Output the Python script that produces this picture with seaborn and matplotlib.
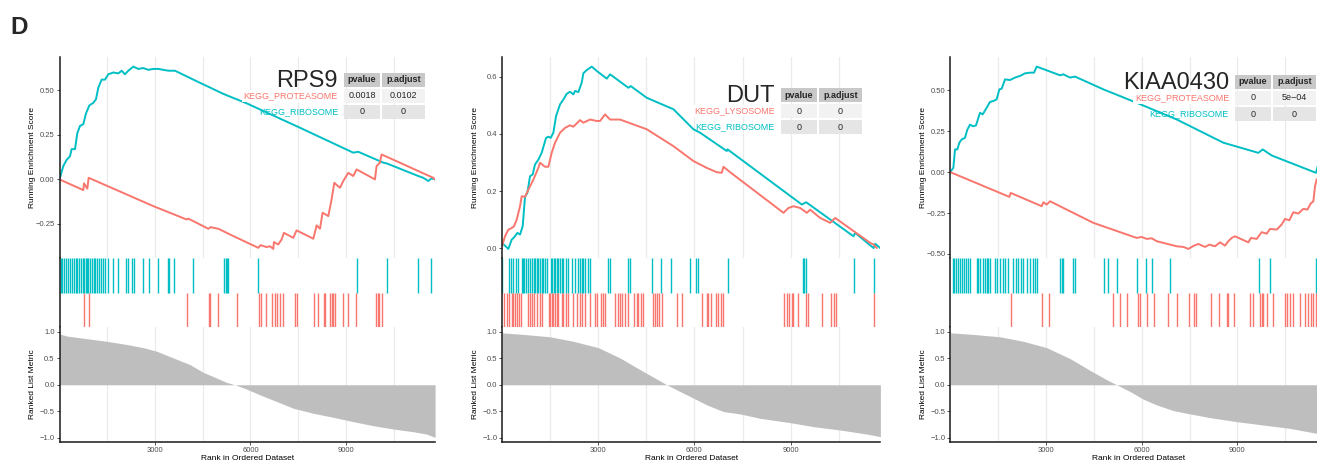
import numpy as np
import pandas as pd
import matplotlib
matplotlib.use("Agg")
import matplotlib.pyplot as plt
from matplotlib.patches import Rectangle
from matplotlib.ticker import FuncFormatter
import seaborn as sns

N_GENES = 11800
RED = "#F8766D"
CYAN = "#00BFC4"

# ---------------- RPS9 ----------------
rps9_ribo_rank = [0, 120, 225, 330, 382, 487, 560, 644, 748, 832, 937, 1063, 1146, 1220, 1324,
                  1429, 1534, 1691, 1848, 1953, 2057, 2162, 2319, 2476, 2633, 2790, 2947, 3104,
                  3261, 3418, 3628, 4204, 5146, 5879, 7554, 9229, 9386, 10172, 10276, 11271,
                  11428, 11585, 11690, 11795]
rps9_ribo_es = [0, 0.075, 0.11, 0.13, 0.17, 0.17, 0.26, 0.30, 0.31, 0.37, 0.415, 0.43, 0.45, 0.515,
                0.56, 0.56, 0.59, 0.60, 0.595, 0.61, 0.59, 0.61, 0.633, 0.62, 0.625, 0.615, 0.62,
                0.62, 0.615, 0.61, 0.61, 0.56, 0.48, 0.427, 0.29, 0.15, 0.155, 0.094, 0.09, 0.019,
                0.009, -0.009, 0.006, 0]
rps9_prot_rank = [0, 748, 770, 874, 916, 2947, 3994, 4047, 4675, 4748, 4989, 5460, 6245, 6319,
                  6507, 6612, 6716, 6737, 6873, 6978, 7051, 7344, 7449, 7974, 8078, 8183, 8266,
                  8444, 8549, 8633, 8811, 8915, 9072, 9229, 9334, 9910, 9962, 10067, 10119, 11742,
                  11795]
rps9_prot_es = [0, -0.06, -0.022, -0.052, 0.009, -0.15, -0.225, -0.22, -0.277, -0.268, -0.277,
                -0.318, -0.384, -0.369, -0.38, -0.375, -0.39, -0.352, -0.365, -0.337, -0.30,
                -0.328, -0.286, -0.333, -0.258, -0.277, -0.187, -0.206, -0.112, -0.019, -0.047,
                -0.009, 0.037, 0.019, 0.056, 0, 0.075, 0.094, 0.14, 0.009, 0]
rps9_ribo_hits = [47, 89, 152, 205, 257, 330, 403, 466, 508, 560, 613, 676, 749, 780, 822, 864,
                  906, 948, 1011, 1074, 1115, 1178, 1231, 1293, 1356, 1430, 1534, 1691, 1827,
                  2089, 2141, 2288, 2330, 2634, 2822, 3084, 3398, 3450, 3597, 4183, 5178, 5220,
                  5262, 5303, 6245, 9334, 10276, 11271, 11669]
rps9_prot_hits = [770, 916, 3995, 4686, 4728, 4968, 5565, 6266, 6329, 6486, 6685, 6768, 6842,
                  6925, 7030, 7386, 7470, 8004, 8109, 8297, 8349, 8496, 8548, 8601, 8653, 8894,
                  9051, 9313, 9941, 9993, 10046, 10129]
rps9_metric_rank = [1, 225, 853, 1481, 2110, 2633, 3052, 3576, 4099, 4518, 4937, 5250, 5512,
                    5879, 6298, 6821, 7345, 7973, 8601, 9229, 9858, 10486, 11114, 11533, 11742,
                    11800]
rps9_metric = [0.96, 0.92, 0.87, 0.82, 0.76, 0.70, 0.633, 0.506, 0.38, 0.234, 0.127, 0.044, 0,
               -0.082, -0.19, -0.316, -0.443, -0.538, -0.614, -0.696, -0.772, -0.835, -0.886,
               -0.93, -0.98, -0.99]
rps9_sets = ["KEGG_PROTEASOME", "KEGG_RIBOSOME"]
rps9_pvalue = ["0.0018", "0"]
rps9_padjust = ["0.0102", "0"]

# ---------------- DUT ----------------
dut_ribo_rank = [0, 198, 302, 406, 479, 562, 645, 718, 791, 874, 957, 1030, 1134, 1238, 1373,
                 1446, 1519, 1602, 1685, 1810, 1914, 2018, 2122, 2226, 2278, 2382, 2486, 2538,
                 2642, 2798, 2954, 3266, 3370, 3942, 4015, 4514, 5346, 5970, 6178, 7010, 7031,
                 9350, 9485, 10962, 11014, 11586, 11638, 11794]
dut_ribo_es = [0.019, -0.002, 0.03, 0.042, 0.054, 0.048, 0.077, 0.18, 0.194, 0.252, 0.258, 0.293,
               0.31, 0.334, 0.386, 0.39, 0.386, 0.404, 0.462, 0.503, 0.52, 0.54, 0.547, 0.538,
               0.55, 0.546, 0.579, 0.612, 0.623, 0.635, 0.62, 0.593, 0.608, 0.561, 0.567, 0.526,
               0.486, 0.416, 0.404, 0.34, 0.346, 0.153, 0.161, 0.042, 0.054, 0.001, 0.016, 0.001]
dut_lyso_rank = [0, 94, 198, 302, 375, 458, 562, 614, 718, 822, 978, 1134, 1186, 1342, 1446,
                 1550, 1654, 1810, 1966, 2122, 2226, 2434, 2538, 2746, 2954, 3058, 3214, 3370,
                 3682, 4098, 4514, 5346, 5970, 6386, 6698, 6854, 6906, 7114, 8778, 8934, 9090,
                 9298, 9506, 9610, 9922, 10234, 10390, 11482, 11586, 11690]
dut_lyso_es = [0.007, 0.042, 0.065, 0.071, 0.077, 0.10, 0.147, 0.182, 0.18, 0.205, 0.24, 0.281,
               0.299, 0.285, 0.285, 0.334, 0.369, 0.404, 0.421, 0.43, 0.425, 0.448, 0.439, 0.45,
               0.445, 0.445, 0.468, 0.45, 0.45, 0.433, 0.416, 0.357, 0.305, 0.281, 0.266, 0.264,
               0.285, 0.266, 0.124, 0.141, 0.147, 0.141, 0.124, 0.135, 0.106, 0.089, 0.106,
               0.019, 0.013, 0.001]
dut_ribo_hits = [11, 219, 281, 354, 427, 489, 614, 656, 697, 739, 801, 864, 947, 999, 1030, 1082,
                 1134, 1196, 1238, 1290, 1342, 1404, 1529, 1571, 1612, 1654, 1706, 1758, 1820,
                 1862, 1914, 1987, 2070, 2195, 2278, 2361, 2434, 2486, 2538, 2590, 2694, 2746,
                 3318, 3370, 3942, 3994, 4670, 4951, 5273, 5866, 6053, 6126, 7041, 9371, 9423,
                 9485, 10962, 11607]
dut_lyso_hits = [73, 146, 219, 302, 354, 406, 458, 531, 593, 822, 874, 947, 1009, 1082, 1186,
                 1238, 1467, 1508, 1550, 1602, 1654, 1706, 1758, 1862, 1914, 1987, 2070, 2226,
                 2330, 2434, 2486, 2590, 2746, 2902, 2954, 3089, 3162, 3214, 3526, 3609, 3682,
                 3755, 3838, 3921, 4129, 4202, 4254, 4337, 4410, 4722, 4774, 4826, 4899, 4982,
                 5450, 5606, 6230, 6386, 6438, 6511, 6677, 6750, 6823, 6906, 8799, 8882, 8965,
                 9038, 9090, 9246, 9485, 9527, 9974, 10255, 10338, 10421, 11586]
dut_metric_rank = [1, 666, 1498, 2226, 3006, 3682, 4306, 4826, 5138, 5554, 5970, 6386, 6906,
                   7426, 8050, 8986, 9714, 10546, 11378, 11800]
dut_metric = [0.98, 0.95, 0.905, 0.82, 0.70, 0.506, 0.285, 0.108, 0, -0.127, -0.253, -0.38,
              -0.506, -0.55, -0.633, -0.715, -0.79, -0.854, -0.93, -0.98]
dut_sets = ["KEGG_LYSOSOME", "KEGG_RIBOSOME"]
dut_pvalue = ["0", "0"]
dut_padjust = ["0", "0"]

# ---------------- KIAA0430 ----------------
kiaa_ribo_rank = [0, 96, 148, 221, 284, 357, 461, 534, 618, 723, 806, 848, 932, 1015, 1141, 1245,
                  1350, 1454, 1538, 1611, 1715, 1872, 2029, 2186, 2342, 2499, 2624, 2708, 3440,
                  3544, 3753, 3910, 4798, 5843, 7097, 8560, 9657, 9793, 10075, 11465, 11517,
                  11800]
kiaa_ribo_es = [0, 0.027, 0.139, 0.139, 0.18, 0.20, 0.21, 0.26, 0.29, 0.28, 0.286, 0.312, 0.363,
                0.353, 0.394, 0.429, 0.435, 0.445, 0.506, 0.51, 0.567, 0.563, 0.578, 0.588,
                0.604, 0.608, 0.608, 0.645, 0.592, 0.598, 0.578, 0.584, 0.506, 0.424, 0.322,
                0.18, 0.118, 0.139, 0.102, -0.004, 0.037, 0]
kiaa_prot_rank = [0, 1851, 1893, 2865, 2917, 3022, 3126, 4485, 5843, 6000, 6157, 6313, 6470,
                  7097, 7306, 7463, 7640, 7776, 7985, 8121, 8299, 8456, 8612, 8717, 8821, 8926,
                  9344, 9427, 9605, 9762, 9919, 10023, 10232, 10389, 10493, 10629, 10754, 10911,
                  11068, 11193, 11298, 11382, 11434, 11486, 11800]
kiaa_prot_es = [0, -0.151, -0.127, -0.208, -0.184, -0.198, -0.178, -0.31, -0.402, -0.396,
                -0.408, -0.404, -0.422, -0.453, -0.457, -0.469, -0.449, -0.439, -0.457, -0.443,
                -0.453, -0.429, -0.449, -0.422, -0.402, -0.392, -0.429, -0.402, -0.408, -0.367,
                -0.376, -0.347, -0.351, -0.32, -0.286, -0.294, -0.245, -0.253, -0.224, -0.229,
                -0.192, -0.178, -0.086, -0.045, 0]
kiaa_ribo_hits = [75, 116, 179, 242, 305, 357, 430, 493, 566, 618, 827, 879, 932, 1036, 1088,
                  1141, 1193, 1245, 1402, 1475, 1559, 1642, 1715, 1820, 1977, 2060, 2133, 2217,
                  2290, 2415, 2499, 2583, 2656, 2708, 3440, 3492, 3544, 3858, 3910, 4829, 4955,
                  5237, 5864, 6136, 6313, 6888, 9668, 10023, 11465]
kiaa_prot_hits = [1893, 2886, 3105, 5112, 5321, 5550, 5895, 5948, 6157, 6386, 6836, 7118, 7494,
                  7640, 7703, 8163, 8435, 8665, 8717, 8894, 9396, 9500, 9710, 9762, 9814, 9919,
                  10128, 10493, 10546, 10650, 10755, 10964, 11120, 11225, 11298, 11382, 11465]
kiaa_metric_rank = [1, 723, 1559, 2290, 3022, 3753, 4380, 4903, 5216, 5634, 6052, 6470, 6993,
                    7515, 8142, 8978, 9814, 10650, 11497, 11800]
kiaa_metric = [0.98, 0.95, 0.905, 0.82, 0.70, 0.494, 0.272, 0.095, 0, -0.127, -0.272, -0.38,
               -0.487, -0.55, -0.62, -0.696, -0.76, -0.823, -0.918, -0.95]
kiaa_sets = ["KEGG_PROTEASOME", "KEGG_RIBOSOME"]
kiaa_pvalue = ["0", "0"]
kiaa_padjust = ["5e\u221204", "0"]

panels = [
    dict(gene="RPS9", left=59.5, width=375.6, table=(344, 73), fmt="%.2f",
         es_ticks=[-0.25, 0, 0.25, 0.5], sets=rps9_sets, pval=rps9_pvalue, padj=rps9_padjust,
         red=(rps9_prot_rank, rps9_prot_es, rps9_prot_hits),
         cyan=(rps9_ribo_rank, rps9_ribo_es, rps9_ribo_hits),
         metric=(rps9_metric_rank, rps9_metric)),
    dict(gene="DUT", left=502, width=378.4, table=(781, 88), fmt="%.1f",
         es_ticks=[0, 0.2, 0.4, 0.6], sets=dut_sets, pval=dut_pvalue, padj=dut_padjust,
         red=(dut_lyso_rank, dut_lyso_es, dut_lyso_hits),
         cyan=(dut_ribo_rank, dut_ribo_es, dut_ribo_hits),
         metric=(dut_metric_rank, dut_metric)),
    dict(gene="KIAA0430", left=950.3, width=376.4, table=(1235, 75), fmt="%.2f",
         es_ticks=[-0.5, -0.25, 0, 0.25, 0.5], sets=kiaa_sets, pval=kiaa_pvalue,
         padj=kiaa_padjust,
         red=(kiaa_prot_rank, kiaa_prot_es, kiaa_prot_hits),
         cyan=(kiaa_ribo_rank, kiaa_ribo_es, kiaa_ribo_hits),
         metric=(kiaa_metric_rank, kiaa_metric)),
]

sns.set_theme(style="white")
plt.rcParams["font.family"] = ["Liberation Sans", "DejaVu Sans"]
plt.rcParams["axes.unicode_minus"] = True

W, H = 1317, 461
fig = plt.figure(figsize=(W / 100, H / 100), dpi=100)


def box(left, top, width, bottom):
    return [left / W, 1 - bottom / H, width / W, (bottom - top) / H]


def fx(x):
    return x / W


def fy(y):
    return 1 - y / H


def minus_fmt(fmt):
    return FuncFormatter(lambda v, _: (fmt % v).replace("-", "\u2212"))


def style_y(ax):
    ax.tick_params(axis="y", left=True, length=2, width=0.6, color="#333333",
                   labelsize=5.5, labelcolor="#4D4D4D", pad=1.5)


def x_grid(ax):
    ax.set_xlim(0, N_GENES)
    ax.set_xticks([3000, 6000, 9000])
    ax.set_xticks([1500, 4500, 7500, 10500], minor=True)
    ax.grid(True, axis="x", which="both", color="#EBEBEB", lw=0.9)
    ax.set_axisbelow(True)


def keep_spines(ax, sides):
    for s in ["left", "right", "top", "bottom"]:
        ax.spines[s].set_visible(s in sides)
        ax.spines[s].set_color("#1A1A1A")
        ax.spines[s].set_linewidth(1.1)


def draw_table(p):
    tl, tt = p["table"]
    col_w = [36, 43]
    row_h, gap = 14, 2
    header = ["pvalue", "p.adjust"]
    fills = ["#F2F2F2", "#E5E5E5"]
    cells = [p["pval"], p["padj"]]
    x = tl
    for j in range(2):
        y = tt
        fig.patches.append(Rectangle((fx(x), fy(y + row_h)), col_w[j] / W, row_h / H,
                                     transform=fig.transFigure, fc="#C8C8C8", ec="none"))
        fig.text(fx(x + col_w[j] / 2), fy(y + row_h / 2), header[j], fontsize=6.5,
                 weight="bold", ha="center", va="center")
        for i in range(2):
            y = tt + (row_h + gap) * (i + 1)
            fig.patches.append(Rectangle((fx(x), fy(y + row_h)), col_w[j] / W, row_h / H,
                                         transform=fig.transFigure, fc=fills[i], ec="none"))
            fig.text(fx(x + col_w[j] / 2), fy(y + row_h / 2), cells[j][i], fontsize=6.5,
                     ha="center", va="center")
        x += col_w[j] + gap
    colors = [RED, CYAN]
    for i in range(2):
        y = tt + (row_h + gap) * (i + 1)
        kw = dict(bbox=dict(boxstyle="square,pad=0.15", fc="white", ec="none")) if i == 0 else {}
        fig.text(fx(tl - 6), fy(y + row_h / 2), p["sets"][i], fontsize=6.5, color=colors[i],
                 ha="right", va="center", **kw)
    fig.text(fx(tl - 6), fy(tt + row_h), p["gene"], fontsize=17, ha="right", va="baseline")


for p in panels:
    left, width = p["left"], p["width"]

    # running enrichment score
    ax_es = fig.add_axes(box(left, 57.5, width, 258))
    frames = []
    for name, (r, es, _), col in [(p["sets"][1], p["cyan"], CYAN), (p["sets"][0], p["red"], RED)]:
        frames.append(pd.DataFrame({"rank": r, "es": es, "set": name}))
    df = pd.concat(frames, ignore_index=True)
    sns.lineplot(data=df, x="rank", y="es", hue="set",
                 palette={p["sets"][0]: RED, p["sets"][1]: CYAN},
                 estimator=None, sort=False, lw=1.4, legend=False, ax=ax_es)
    lo, hi = df["es"].min(), df["es"].max()
    pad = 0.05 * (hi - lo)
    ax_es.set_ylim(lo - pad, hi + pad)
    x_grid(ax_es)
    ax_es.tick_params(axis="x", bottom=False, labelbottom=False)
    ax_es.set_yticks(p["es_ticks"])
    ax_es.yaxis.set_major_formatter(minus_fmt(p["fmt"]))
    style_y(ax_es)
    keep_spines(ax_es, ["left"])
    ax_es.set_xlabel("")
    ax_es.set_ylabel("Running Enrichment Score", fontsize=6, color="black")
    ax_es.yaxis.set_label_coords(-23 / width, 0.5)

    # hits
    ax_h = fig.add_axes(box(left, 258, width, 327))
    ax_h.vlines(p["cyan"][2], 1, 2, color=CYAN, lw=1.0)
    ax_h.vlines(p["red"][2], 0, 1, color=RED, lw=1.0)
    ax_h.set_xlim(0, N_GENES)
    ax_h.set_ylim(0, 2)
    ax_h.set_xticks([])
    ax_h.set_yticks([])
    keep_spines(ax_h, ["left"])

    # ranked list metric
    ax_m = fig.add_axes(box(left, 327, width, 442))
    mr, mv = p["metric"]
    ax_m.fill_between(mr, mv, 0, color="#BEBEBE", lw=0)
    x_grid(ax_m)
    ax_m.set_ylim(-1.08, 1.09)
    ax_m.set_yticks([-1, -0.5, 0, 0.5, 1])
    ax_m.yaxis.set_major_formatter(minus_fmt("%.1f"))
    style_y(ax_m)
    ax_m.tick_params(axis="x", which="major", bottom=True, length=2, width=0.6,
                     color="#333333", labelsize=5.5, labelcolor="#4D4D4D", pad=1.5)
    ax_m.tick_params(axis="x", which="minor", bottom=False)
    keep_spines(ax_m, ["left", "bottom"])
    ax_m.set_ylabel("Ranked List Metric", fontsize=6, color="black")
    ax_m.yaxis.set_label_coords(-23 / width, 0.5)
    ax_m.set_xlabel("Rank in Ordered Dataset", fontsize=6, color="black")
    ax_m.xaxis.set_label_coords(0.5, -13 / 115)

    draw_table(p)

fig.text(fx(10), fy(34.3), "D", fontsize=17.5, weight="bold", va="baseline")

fig.savefig("out.png", dpi=100)
